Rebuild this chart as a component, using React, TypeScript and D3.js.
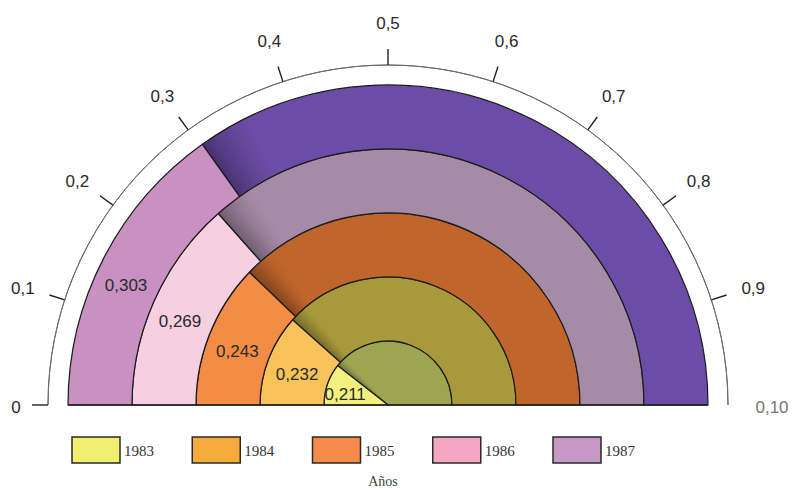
import React from 'react';
import * as d3 from 'd3';

const years = ['1983', '1984', '1985', '1986', '1987'];
const values = [0.211, 0.232, 0.243, 0.269, 0.303];
const valueLabels = ['0,211', '0,232', '0,243', '0,269', '0,303'];
const valueColors = ['#f4f07e', '#f7c25a', '#f38c44', '#f6cfe0', '#c891c2'];
const restColors = ['#9ea552', '#a89a3c', '#c0652c', '#a68ba6', '#6b4ca6'];
const legendColors = ['#f1ef70', '#f5aa3c', '#f58b48', '#f5a6c2', '#c698c5'];
const tickValues = [0, 0.1, 0.2, 0.3, 0.4, 0.5, 0.6, 0.7, 0.8, 0.9, 1];
const tickLabels = ['0', '0,1', '0,2', '0,3', '0,4', '0,5', '0,6', '0,7', '0,8', '0,9', '0,10'];

const W = 794;
const H = 493;
const cx = 388;
const cy = 405;

export default function App() {
  const angle = d3.scaleLinear().domain([0, 1]).range([-Math.PI / 2, Math.PI / 2]);
  const radius = d3.scaleLinear().domain([0, years.length]).range([0, 320]);
  const legendX = d3.scaleLinear().domain([0, years.length - 1]).range([72, 553]);
  const arc = d3.arc<any>();
  const axisR = 340;
  const tickLen = 16;
  const labelR = 384;

  const pt = (v: number, r: number) => {
    const a = angle(v);
    return [cx + r * Math.sin(a), cy - r * Math.cos(a)];
  };

  const shadowSteps = d3.range(14);

  return (
    <svg width={W} height={H} style={{ position: 'absolute', left: 0, top: 0, background: '#fff' }}>
      {/* axis arc */}
      <path
        d={arc({ innerRadius: axisR, outerRadius: axisR, startAngle: angle(0), endAngle: angle(1) }) || ''}
        transform={`translate(${cx},${cy})`}
        fill="none"
        stroke="#6a6a6a"
        strokeWidth={1}
      />
      {tickValues.map((v, i) => {
        if (i === tickValues.length - 1) return null;
        const [x1, y1] = pt(v, axisR);
        const [x2, y2] = pt(v, axisR + tickLen);
        return <line key={'t' + i} x1={x1} y1={y1} x2={x2} y2={y2} stroke="#222" strokeWidth={1.4} />;
      })}
      {tickValues.map((v, i) => {
        const [x, y] = pt(v, i === 0 ? 372 : labelR);
        return (
          <text
            key={'l' + i}
            x={x}
            y={y + 2}
            textAnchor="middle"
            dominantBaseline="central"
            fontFamily="Liberation Sans, Arial, sans-serif"
            fontSize={17}
            fill={i === tickValues.length - 1 ? '#777' : '#2a2a2a'}
          >
            {tickLabels[i]}
          </text>
        );
      })}

      {/* rings */}
      <g transform={`translate(${cx},${cy})`}>
        {years.map((y, i) => {
          const r0 = radius(i);
          const r1 = radius(i + 1);
          const split = angle(values[i]);
          return (
            <g key={y}>
              <path
                d={arc({ innerRadius: r0, outerRadius: r1, startAngle: split, endAngle: angle(1) }) || ''}
                fill={restColors[i]}
                stroke="#1a1a1a"
                strokeWidth={1.2}
              />
              {shadowSteps.map((s) => (
                <path
                  key={s}
                  d={
                    arc({
                      innerRadius: r0 + 0.6,
                      outerRadius: r1 - 0.6,
                      startAngle: split + (s * 0.16) / shadowSteps.length,
                      endAngle: split + ((s + 1) * 0.16) / shadowSteps.length,
                    }) || ''
                  }
                  fill="#000"
                  fillOpacity={0.32 * (1 - s / shadowSteps.length) ** 1.6}
                  stroke="none"
                />
              ))}
              <path
                d={arc({ innerRadius: r0, outerRadius: r1, startAngle: angle(0), endAngle: split }) || ''}
                fill={valueColors[i]}
                stroke="#1a1a1a"
                strokeWidth={1.2}
              />
            </g>
          );
        })}
        {years.map((y, i) => {
          const r0 = radius(i);
          const r1 = radius(i + 1);
          const rm = i === 0 ? 44 : (r0 + r1) / 2;
          const a = angle(values[i] * (i === 0 ? 0.35 : 0.45));
          return (
            <text
              key={'v' + y}
              x={rm * Math.sin(a)}
              y={-rm * Math.cos(a)}
              textAnchor="middle"
              dominantBaseline="central"
              fontFamily="Liberation Sans, Arial, sans-serif"
              fontSize={17}
              fill="#2a2a2a"
            >
              {valueLabels[i]}
            </text>
          );
        })}
      </g>
      {/* baseline */}
      <line x1={cx - 320} y1={cy} x2={cx + 320} y2={cy} stroke="#1a1a1a" strokeWidth={1.4} />

      {/* legend */}
      {years.map((y, i) => (
        <g key={'lg' + y} transform={`translate(${legendX(i)},437)`}>
          <rect x={0} y={0} width={48} height={26} fill={legendColors[i]} stroke="#2a2a2a" strokeWidth={1.5} />
          <text x={52} y={19} fontFamily="Liberation Serif, Times New Roman, serif" fontSize={15} fill="#333">
            {y}
          </text>
        </g>
      ))}
      <text
        x={383}
        y={486}
        textAnchor="middle"
        fontFamily="Liberation Serif, Times New Roman, serif"
        fontSize={14}
        fill="#444"
      >
        Años
      </text>
    </svg>
  );
}
